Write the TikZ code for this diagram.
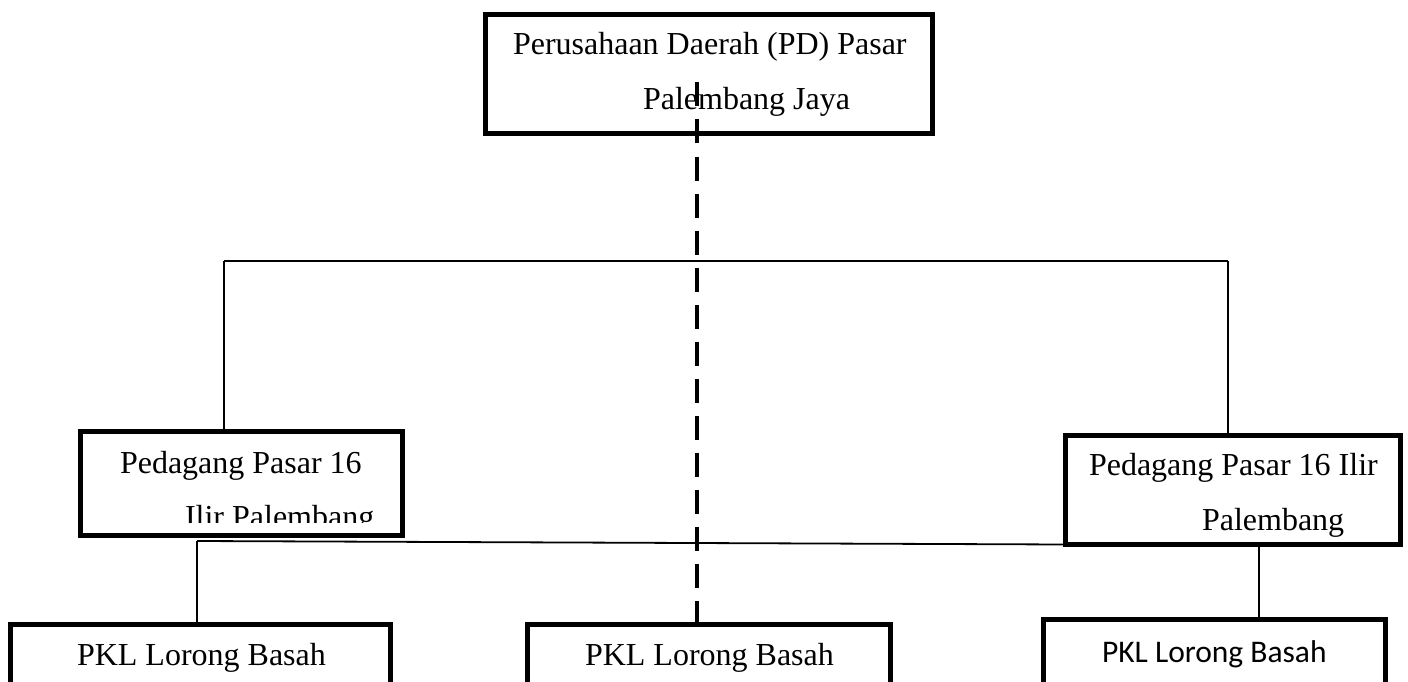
\documentclass[tikz,border=0pt]{standalone}
\usepackage{fontspec}
\setmainfont{Liberation Serif}
\newfontfamily\calib{Carlito}
\begin{document}
\begin{tikzpicture}[x=1pt,y=-1pt,
  boxnode/.style={draw=black,line width=5pt,rectangle,inner sep=0pt,outer sep=0pt},
  txt/.style={anchor=base west,inner sep=0pt,outer sep=0pt,font=\fontsize{32}{38}\selectfont},
  conn/.style={draw=black,line width=1.8pt},
  dashconn/.style={draw=black,line width=4pt,dash pattern=on 24pt off 13pt}]
\clip (0,0) rectangle (1408,682);
\fill[white] (0,0) rectangle (1408,682);
% boxes
\node[boxnode,minimum width=447pt,minimum height=119pt] (T) at (709,74) {};
\node[boxnode,minimum width=322pt,minimum height=104pt] (L) at (241.5,483.5) {};
\node[boxnode,minimum width=335.5pt,minimum height=109pt] (R) at (1232.75,490) {};
\node[boxnode,minimum width=380pt,minimum height=110pt] (BL) at (200.5,679.5) {};
\node[boxnode,minimum width=363pt,minimum height=110pt] (BM) at (709,679.5) {};
\node[boxnode,minimum width=342pt,minimum height=115pt] (BR) at (1214.5,677) {};
% texts
\node[txt] (t1) at (513,55) {Perusahaan Daerah (PD) Pasar};
\node[txt] (t2) at (643,110) {Palembang Jaya};
\node[txt] (l1) at (120,473) {Pedagang Pasar 16};
\begin{scope}
\clip (80,431) rectangle (403,522);
\node[txt] (l2) at (185,527) {Ilir Palembang};
\end{scope}
\node[txt] (r1) at (1089,475) {Pedagang Pasar 16 Ilir};
\node[txt] (r2) at (1202,530) {Palembang};
\node[txt] (b1) at (77,665) {PKL Lorong Basah};
\node[txt] (b2) at (585,665) {PKL Lorong Basah};
\node[txt,font=\calib\fontsize{31.5}{38}\selectfont] (b3) at (1102,662) {PKL Lorong Basah};
% connectors
\coordinate (hl) at (224,261);
\coordinate (hr) at (1228,261);
\coordinate (j1) at (197,541);
\coordinate (j2) at (1259,545);
\coordinate (d0) at (697,70);
\draw[conn] (hl) -- (hr);
\draw[conn] (hl) -- (L.north -| hl);
\draw[conn] (hr) -- (R.north -| hr);
\draw[conn] (j1) -- (R.south west);
\draw[conn] (j1) -- (BL.north -| j1);
\draw[conn] (j2) -- (BR.north -| j2);
\draw[dashconn] (BM.north -| d0) -- (d0);
\end{tikzpicture}
\end{document}
